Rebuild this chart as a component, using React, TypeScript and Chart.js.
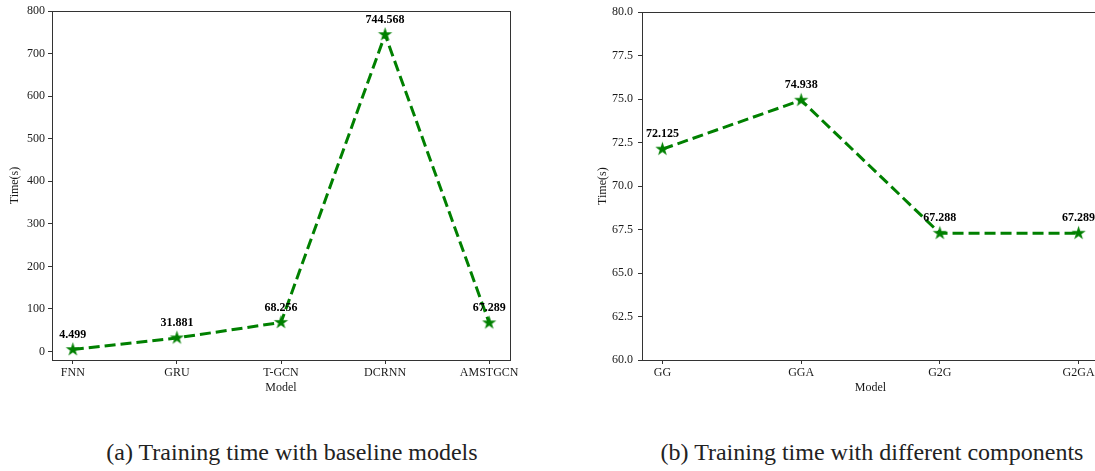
import React, { useEffect, useRef } from 'react';
import { Chart, registerables } from 'chart.js';

Chart.register(...registerables);

// ---- Data ----
const baselineModels = ['FNN', 'GRU', 'T-GCN', 'DCRNN', 'AMSTGCN'];
const baselineTimes = [4.499, 31.881, 68.256, 744.568, 67.289];
const baselineYTicks = [0, 100, 200, 300, 400, 500, 600, 700, 800];

const componentModels = ['GG', 'GGA', 'G2G', 'G2GA'];
const componentTimes = [72.125, 74.938, 67.288, 67.289];
const componentYTicks = [60.0, 62.5, 65.0, 67.5, 70.0, 72.5, 75.0, 77.5, 80.0];

const captionA = '(a) Training time with baseline models';
const captionB = '(b) Training time with different components';

const FONT = '"Liberation Serif", "Times New Roman", serif';
const GREEN = '#008000';
const AXIS = '#333333';
const TEXT = '#1a1a1a';

function makeStar(color: string, r: number): HTMLCanvasElement {
  const size = Math.ceil(r * 2 + 2);
  const c = document.createElement('canvas');
  c.width = size;
  c.height = size;
  const ctx = c.getContext('2d')!;
  ctx.fillStyle = color;
  ctx.beginPath();
  const cx = size / 2, cy = size / 2;
  for (let i = 0; i < 10; i++) {
    const rad = i % 2 === 0 ? r : r * 0.382;
    const a = -Math.PI / 2 + (i * Math.PI) / 5;
    const x = cx + rad * Math.cos(a);
    const y = cy + rad * Math.sin(a);
    if (i === 0) ctx.moveTo(x, y);
    else ctx.lineTo(x, y);
  }
  ctx.closePath();
  ctx.fill();
  return c;
}

const framePlugin = {
  id: 'frame',
  afterDatasetsDraw(chart: any) {
    const { ctx, chartArea } = chart;
    ctx.save();
    ctx.strokeStyle = AXIS;
    ctx.lineWidth = 1;
    ctx.strokeRect(
      Math.round(chartArea.left) + 0.5,
      Math.round(chartArea.top) + 0.5,
      Math.round(chartArea.right - chartArea.left),
      Math.round(chartArea.bottom - chartArea.top)
    );
    ctx.restore();
  },
};

const valueLabelPlugin = {
  id: 'valueLabels',
  afterDraw(chart: any) {
    const meta = chart.getDatasetMeta(0);
    const ctx = chart.ctx;
    ctx.save();
    ctx.font = `bold 12px ${FONT}`;
    ctx.fillStyle = '#000';
    ctx.textAlign = 'center';
    ctx.textBaseline = 'middle';
    meta.data.forEach((pt: any, i: number) => {
      const v = chart.data.datasets[0].data[i].y as number;
      ctx.fillText(v.toFixed(3), pt.x, pt.y - 15);
    });
    ctx.restore();
  },
};

interface PanelProps {
  labels: string[];
  values: number[];
  yTicks: number[];
  yDecimals: number;
  xPad: number;
  yAxisWidth: number;
  titlePad: number;
  tickPad: number;
  padRight: number;
  width: number;
  height: number;
}

function Panel(p: PanelProps) {
  const ref = useRef<HTMLCanvasElement>(null);
  useEffect(() => {
    if (!ref.current) return;
    const star = makeStar(GREEN, 7.5);
    const yMin = p.yTicks[0];
    const yMax = p.yTicks[p.yTicks.length - 1];
    const chart = new Chart(ref.current, {
      type: 'line',
      data: {
        datasets: [
          {
            data: p.values.map((v, i) => ({ x: i, y: v })),
            borderColor: GREEN,
            backgroundColor: GREEN,
            borderWidth: 3,
            borderDash: [11, 5],
            pointStyle: star as any,
            pointRadius: 7,
            tension: 0,
            fill: false,
          },
        ],
      },
      options: {
        responsive: false,
        animation: false,
        layout: { padding: { top: 11, right: p.padRight, left: 0, bottom: 10 } },
        plugins: { legend: { display: false }, tooltip: { enabled: false } },
        scales: {
          x: {
            type: 'linear',
            min: -p.xPad,
            max: p.labels.length - 1 + p.xPad,
            afterBuildTicks: (s: any) => {
              s.ticks = p.labels.map((_, i) => ({ value: i }));
            },
            afterFit: (s: any) => {
              s.height = 40;
            },
            ticks: {
              autoSkip: false,
              maxRotation: 0,
              padding: 2,
              color: TEXT,
              font: { family: FONT, size: 12 },
              callback: (v: any) => p.labels[Math.round(Number(v))] ?? '',
            },
            grid: { drawOnChartArea: false, drawTicks: true, tickLength: 4, color: AXIS },
            border: { display: false },
            title: {
              display: true,
              text: 'Model',
              color: TEXT,
              font: { family: FONT, size: 12 },
              padding: { top: 0, bottom: 5 },
            },
          },
          y: {
            type: 'linear',
            min: yMin - (p.yDecimals === 0 ? 20 : 0),
            max: yMax,
            afterBuildTicks: (s: any) => {
              s.ticks = p.yTicks.map((v) => ({ value: v }));
            },
            afterFit: (s: any) => {
              s.width = p.yAxisWidth;
            },
            ticks: {
              padding: p.tickPad,
              color: TEXT,
              font: { family: FONT, size: 12 },
              callback: (v: any) => Number(v).toFixed(p.yDecimals),
            },
            grid: { drawOnChartArea: false, drawTicks: true, tickLength: 4, color: AXIS },
            border: { display: false },
            title: {
              display: true,
              text: 'Time(s)',
              color: TEXT,
              font: { family: FONT, size: 12 },
              padding: { top: p.titlePad, bottom: 0 },
            },
          },
        },
      },
      plugins: [framePlugin, valueLabelPlugin],
    });
    return () => chart.destroy();
  }, []);
  return <canvas ref={ref} width={p.width} height={p.height} style={{ display: 'block' }} />;
}

export default function App() {
  return (
    <div
      style={{
        position: 'absolute',
        left: 0,
        top: 0,
        width: 1095,
        height: 471,
        overflow: 'hidden',
        background: '#fff',
      }}
    >
      <div style={{ position: 'absolute', left: 0, top: 0 }}>
        <Panel
          labels={baselineModels}
          values={baselineTimes}
          yTicks={baselineYTicks}
          yDecimals={0}
          xPad={0.2}
          yAxisWidth={52}
          titlePad={8}
          tickPad={3}
          padRight={20}
          width={530}
          height={410}
        />
      </div>
      <div style={{ position: 'absolute', left: 560, top: 0 }}>
        <Panel
          labels={componentModels}
          values={componentTimes}
          yTicks={componentYTicks}
          yDecimals={1}
          xPad={0.147}
          yAxisWidth={82}
          titlePad={36}
          tickPad={5}
          padRight={21}
          width={560}
          height={410}
        />
      </div>
      <div
        style={{
          position: 'absolute',
          left: 92,
          width: 400,
          top: 437,
          textAlign: 'center',
          fontFamily: FONT,
          fontSize: 24,
          lineHeight: '30px',
          color: '#222',
          whiteSpace: 'nowrap',
        }}
      >
        {captionA}
      </div>
      <div
        style={{
          position: 'absolute',
          left: 642,
          width: 460,
          top: 437,
          textAlign: 'center',
          fontFamily: FONT,
          fontSize: 24,
          lineHeight: '30px',
          color: '#222',
          whiteSpace: 'nowrap',
        }}
      >
        {captionB}
      </div>
    </div>
  );
}
